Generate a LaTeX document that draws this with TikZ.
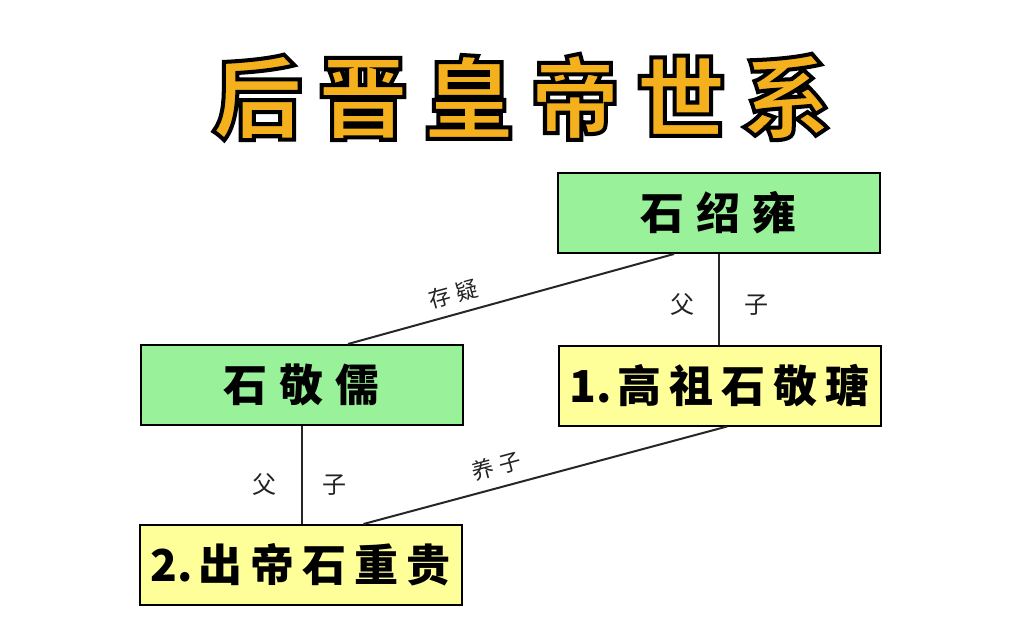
\documentclass[tikz,border=0pt]{standalone}
\usepackage{fontspec}
\newfontfamily\cjk{Noto Sans CJK SC}
\usetikzlibrary{positioning}
\definecolor{boxgreen}{HTML}{99F299}
\definecolor{boxyellow}{HTML}{FFFF99}
\definecolor{titleorange}{HTML}{F5B01E}
\definecolor{lblgray}{HTML}{222222}
\newcommand\gk{\kern 12pt }
\newcommand\gs{\kern 8pt }
\begin{document}
\begin{tikzpicture}[x=1pt,y=-1pt,
  person/.style={draw=black, line width=2pt, minimum width=322pt, minimum height=80pt,
    inner sep=0pt, font=\cjk\bfseries\fontsize{44pt}{48pt}\selectfont, text=black},
  gen/.style={person, fill=boxgreen},
  emp/.style={person, fill=boxyellow},
  link/.style={line width=2pt, draw=black!85},
  lbl/.style={font=\cjk\fontsize{24pt}{28pt}\selectfont, text=lblgray, inner sep=1pt},
  slbl/.style={font=\cjk\fontsize{22pt}{24pt}\selectfont, text=lblgray, inner sep=2pt}
]
\path[fill=white] (0,0) rectangle (1024,625);
\useasboundingbox (0,0) rectangle (1024,625);

\node[font=\cjk\bfseries\fontsize{90pt}{96pt}\selectfont, text=titleorange, inner sep=0pt] (title) at (522,97)
  {\special{pdf:literal direct 0 0 0 RG 4 w 2 Tr}后\kern16pt 晋\kern16pt 皇\kern16pt 帝\kern16pt 世\kern16pt 系\special{pdf:literal direct 0 Tr}};

\node[gen] (shao) at (718.5,213) {石\gk 绍\gk 雍};
\node[emp] (tang) at (719.5,385.5) {1.\kern6pt 高\gs 祖\gs 石\gs 敬\gs 瑭};
\node[gen] (ru) at (301.5,385) {石\gk 敬\gk 儒};
\node[emp] (gui) at (300.5,565) {2.\kern6pt 出\gs 帝\gs 石\gs 重\gs 贵};

\draw[link] (shao.south) -- (shao.south |- tang.north)
  node[lbl, pos=0.56, xshift=-36pt] {父}
  node[lbl, pos=0.56, xshift=38pt] {子};
\draw[link] (ru.south) -- (ru.south |- gui.north)
  node[lbl, pos=0.6, xshift=-37pt] {父}
  node[lbl, pos=0.6, xshift=33pt] {子};
\draw[link] ([xshift=-44.5pt]shao.south) -- ([xshift=46.5pt]ru.north)
  node[slbl, pos=0.66, sloped, above=7pt] {存\kern6pt 疑};
\draw[link] ([xshift=63pt]gui.north) -- ([xshift=7.5pt]tang.south)
  node[slbl, pos=0.38, sloped, above=8pt] {养\kern6pt 子};
\end{tikzpicture}
\end{document}
